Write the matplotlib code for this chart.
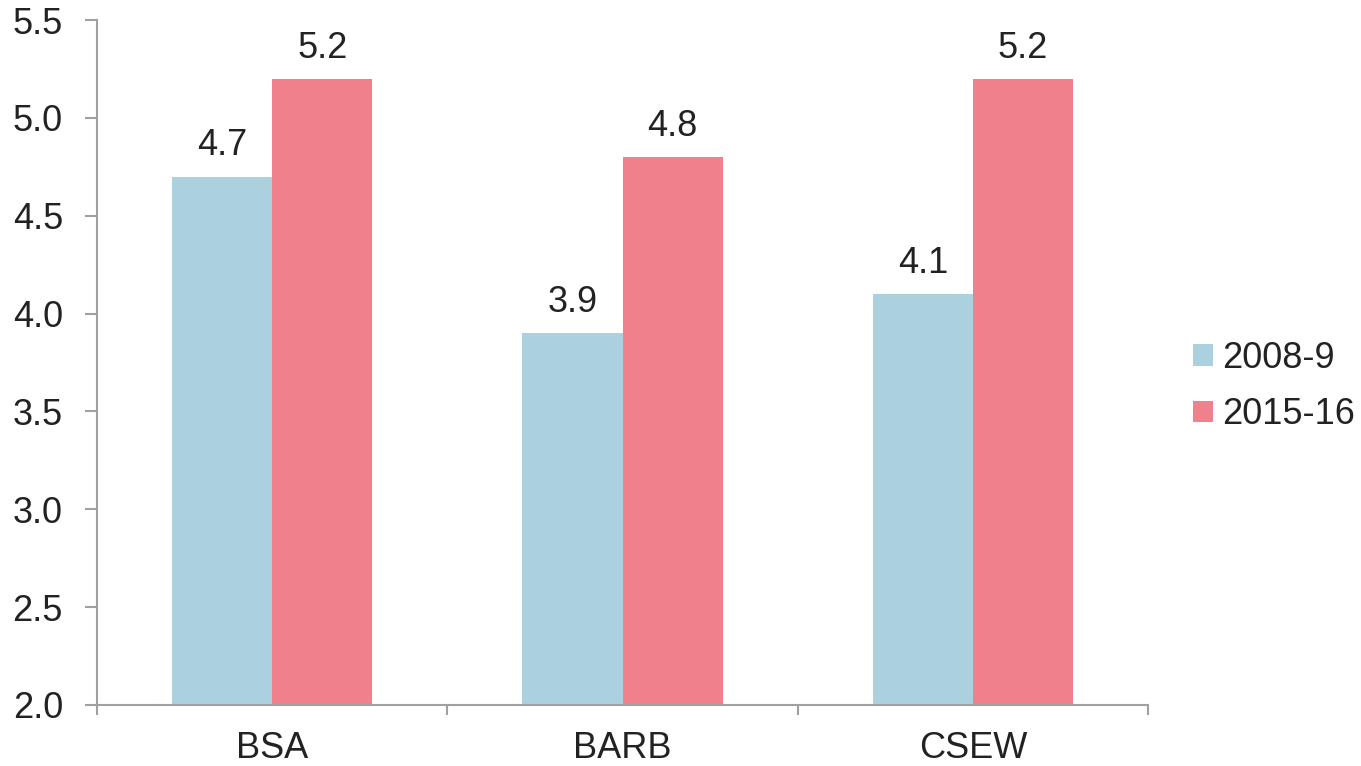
import matplotlib
matplotlib.use("Agg")
import matplotlib.pyplot as plt
import numpy as np

categories = ["BSA", "BARB", "CSEW"]
series_names = ["2008-9", "2015-16"]
values_2008 = [4.7, 3.9, 4.1]
values_2015 = [5.2, 4.8, 5.2]
yticks = [2.0, 2.5, 3.0, 3.5, 4.0, 4.5, 5.0, 5.5]

plt.rcParams['font.family'] = ['Liberation Sans', 'DejaVu Sans']
text_color = "#222222"
axis_color = "#a0a0a0"
blue = "#abd1df"
pink = "#f0808c"

fig = plt.figure(figsize=(13.61, 7.66), dpi=100)
ax = fig.add_axes([97/1361, 1-705/766, (1148-97)/1361, (705-20)/766])

x = np.arange(len(categories))
w = 100/350
b1 = ax.bar(x - w/2, values_2008, width=w, bottom=0, color=blue, label=series_names[0])
b2 = ax.bar(x + w/2, values_2015, width=w, bottom=0, color=pink, label=series_names[1])

for bars, vals in ((b1, values_2008), (b2, values_2015)):
    for rect, v in zip(bars, vals):
        ax.annotate(f"{v:.1f}", (rect.get_x() + rect.get_width()/2, v),
                    xytext=(0, 9.5), textcoords="offset points",
                    ha="center", va="bottom", fontsize=26, color=text_color)

ax.set_ylim(2.0, 5.5)
ax.set_xlim(-0.5, len(categories) - 0.5)
ax.set_yticks(yticks)
ax.set_yticklabels([f"{t:.1f}" for t in yticks])
ax.set_xticks(x)
ax.set_xticklabels(categories)
ax.set_xticks(np.arange(len(categories) + 1) - 0.5, minor=True)

for s in ("top", "right"):
    ax.spines[s].set_visible(False)
for s in ("left", "bottom"):
    ax.spines[s].set_color(axis_color)
    ax.spines[s].set_linewidth(1.5)

ax.tick_params(axis="y", direction="out", length=8.5, width=1.5, color=axis_color,
               labelsize=26, labelcolor=text_color, pad=16)
ax.tick_params(axis="x", which="major", length=0, labelsize=26, labelcolor=text_color, pad=18.5)
ax.tick_params(axis="x", which="minor", direction="out", length=7, width=1.5, color=axis_color)

leg = ax.legend(loc="center left", bbox_to_anchor=(1.0186, 0.465), frameon=False,
                fontsize=26, handlelength=0.55, handleheight=0.55, handletextpad=0.25,
                labelspacing=0.6, labelcolor=text_color, borderpad=0.2)

fig.savefig("out.png", dpi=100)
